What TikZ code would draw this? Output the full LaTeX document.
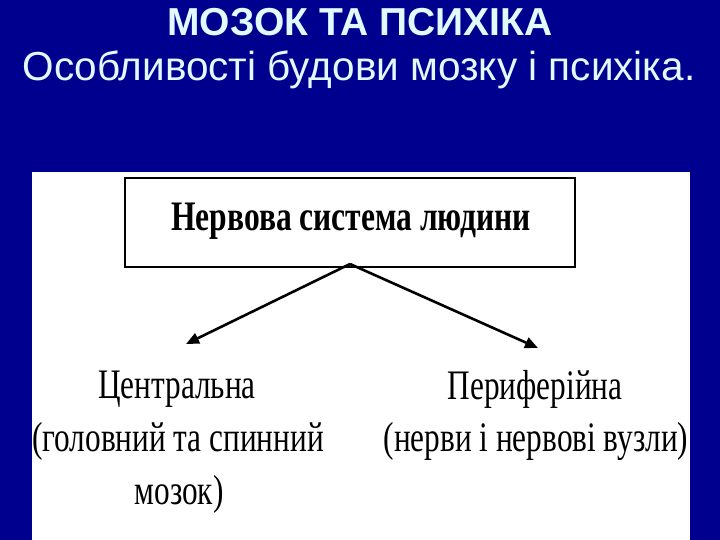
\documentclass[tikz,border=0pt]{standalone}
\usepackage{fontspec}
\setmainfont{Liberation Serif}
\newfontfamily\titlefont{Liberation Sans}
\usetikzlibrary{arrows.meta}
\definecolor{slidebg}{RGB}{0,0,142}
\definecolor{titlecol}{RGB}{225,250,255}
\tikzset{
  titletext/.style={text=titlecol, inner sep=0pt, anchor=center},
  serif/.style={text=black, inner sep=0pt, anchor=center},
  conn/.style={draw=black, line width=2.6pt, -{Triangle[length=13pt,width=11pt]}}
}
\newcommand{\condtext}[1]{\scalebox{0.745}[1]{\fontsize{42}{44}\selectfont #1}}
\begin{document}
\begin{tikzpicture}[x=1pt,y=-1pt]
\fill[slidebg] (0,0) rectangle (720,540);
\useasboundingbox (0,0) rectangle (720,540);
\fill[white] (32,172) rectangle (690,540);
\node[titletext, font=\titlefont\bfseries\fontsize{39}{41}\selectfont] (t1) at (360,22) {МОЗОК ТА ПСИХІКА};
\node[titletext, font=\titlefont\fontsize{40.5}{43}\selectfont] (t2) at (359,70) {Особливості будови мозку і психіка.};
\node[draw=black, line width=2pt, minimum width=450pt, minimum height=89pt, inner sep=0pt] (top) at (350,222.5) {};
\node[serif] (toptext) at (351,221) {\scalebox{0.75}[1]{\bfseries\fontsize{42}{44}\selectfont Нервова система людини}};
\coordinate (src) at (350,264);
\node[serif] (c1) at (177,389) {\condtext{Центральна}};
\node[serif] (c2) at (178,441) {\condtext{(головний та спинний}};
\node[serif] (c3) at (179,494) {\condtext{мозок)}};
\node[serif] (p1) at (535,389) {\condtext{Периферійна}};
\node[serif] (p2) at (536,441) {\condtext{(нерви і нервові вузли)}};
\coordinate (lt) at (186,344);
\coordinate (rt) at (538,348);
\draw[conn] (src) -- (lt);
\draw[conn] (src) -- (rt);
\end{tikzpicture}
\end{document}
